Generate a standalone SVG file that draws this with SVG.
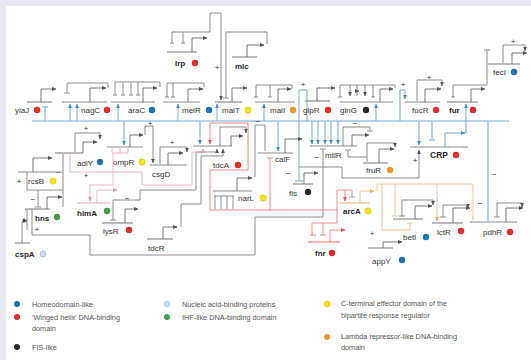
<svg xmlns="http://www.w3.org/2000/svg" width="531" height="360" viewBox="0 0 531 360">
<defs>
<style>
text{font-family:"Liberation Sans",Arial,sans-serif;font-size:8px;fill:#333}
.bd{font-weight:bold;fill:#2a2a2a}
.s{text-anchor:middle}
.lg{font-size:7.3px;fill:#555}
.bl{fill:none;stroke:#8c8c8c;stroke-width:1.2}
.pa{fill:none;stroke:#666;stroke-width:0.9}
.g{fill:none;stroke:#7f7f7f;stroke-width:0.9}
.u{fill:none;stroke:#5c9fd6;stroke-width:0.9}
.p{fill:none;stroke:#f5a9bf;stroke-width:0.9}
.r{fill:none;stroke:#f07d7d;stroke-width:0.9}
.o{fill:none;stroke:#f7be85;stroke-width:0.9}
.dr{fill:#e52a2a}.db{fill:#1d72b8}.dy{fill:#f4e31c;stroke:#c9b800;stroke-width:0.4}.do{fill:#f2962c}.dg{fill:#3c9e4a}.dk{fill:#2a2a2a}.dl{fill:#c8e0f1;stroke:#8cb5d6;stroke-width:0.6}
</style>
<marker id="mg" viewBox="0 0 6 6" refX="5.5" refY="3" markerWidth="4.5" markerHeight="4.5" orient="auto" markerUnits="userSpaceOnUse"><path d="M0,0.4L6,3L0,5.6z" fill="#555"/></marker>
<marker id="mb" viewBox="0 0 6 6" refX="5.5" refY="3" markerWidth="4.5" markerHeight="4.5" orient="auto" markerUnits="userSpaceOnUse"><path d="M0,0.4L6,3L0,5.6z" fill="#3d8bcc"/></marker>
<marker id="mp" viewBox="0 0 6 6" refX="5.5" refY="3" markerWidth="4.5" markerHeight="4.5" orient="auto" markerUnits="userSpaceOnUse"><path d="M0,0.4L6,3L0,5.6z" fill="#f28fae"/></marker>
<marker id="mr" viewBox="0 0 6 6" refX="5.5" refY="3" markerWidth="4.5" markerHeight="4.5" orient="auto" markerUnits="userSpaceOnUse"><path d="M0,0.4L6,3L0,5.6z" fill="#ec4e4e"/></marker>
<marker id="mo" viewBox="0 0 6 6" refX="5.5" refY="3" markerWidth="4.5" markerHeight="4.5" orient="auto" markerUnits="userSpaceOnUse"><path d="M0,0.4L6,3L0,5.6z" fill="#f3a35a"/></marker>
</defs>
<rect width="531" height="360" fill="#e9e9f4"/>
<rect x="6" y="6" width="525" height="354" fill="#fff"/>

<g id="connectors">
<path class="u" d="M32,121H509"/>
<path class="u" d="M45,121V107M42,107H48"/>
<path class="u" d="M70,121V104" marker-end="url(#mb)"/>
<path class="u" d="M77,121V104" marker-end="url(#mb)"/>
<path class="u" d="M118,121V104" marker-end="url(#mb)"/>
<path class="u" d="M178,121V104" marker-end="url(#mb)"/>
<path class="u" d="M217,121V104" marker-end="url(#mb)"/>
<path class="u" d="M264,121V104" marker-end="url(#mb)"/>
<path class="u" d="M376,121V104" marker-end="url(#mb)"/>
<path class="u" d="M466,133V104" marker-end="url(#mb)"/>
<path class="u" d="M299,181V90H307V121M295,181H303"/>
<path class="u" d="M400,121V90H405V99" marker-end="url(#mb)"/>
<path class="u" d="M124,121V145" marker-end="url(#mb)"/>
<path class="u" d="M200,121V144" marker-end="url(#mb)"/>
<path class="u" d="M278,121V151" marker-end="url(#mb)"/>
<path class="u" d="M312,121V144" marker-end="url(#mb)"/>
<path class="u" d="M318,121V144" marker-end="url(#mb)"/>
<path class="u" d="M325,121V144" marker-end="url(#mb)"/>
<path class="u" d="M331,121V144" marker-end="url(#mb)"/>
<path class="u" d="M338,121V144" marker-end="url(#mb)"/>
<path class="u" d="M419,121V145" marker-end="url(#mb)"/>
<path class="u" d="M432,121V140M429,140H435"/>
<path class="u" d="M488,121V221"/>

<path class="g" d="M108,88V83H67V93M64,93H70"/>
<path class="g" d="M160,87V82H115V95M123,82V95M131,82V95M138,82V95M113,95H117M121,95H125M129,95H133M136,95H140"/>
<path class="g" d="M204,87V83H167V97M173,83V97M165,97H169M171,97H175"/>
<path class="g" d="M172,43V32H210V13H221V100" marker-end="url(#mg)"/>
<path class="g" d="M183,32V43M170,43H174M181,43H185"/>
<path class="g" d="M267,44V32H226V98M223,98H229"/>
<path class="g" d="M292,89V85H256V97M270,85V97M254,97H258M268,97H272"/>
<path class="g" d="M395,88V85H340V97M338,97H342M373,85V97M371,97H375"/>
<path class="g" d="M350,85V96" marker-end="url(#mg)"/>
<path class="g" d="M357,85V96M355,91H359" marker-end="url(#mg)"/>
<path class="g" d="M365,85V96" marker-end="url(#mg)"/>
<path class="g" d="M417,101V80H442V86" marker-end="url(#mg)"/>
<path class="g" d="M453,97V85H487V50M451,97H455M484,50H490"/>
<path class="g" d="M503,63V45H525V51" marker-end="url(#mg)"/>
<path class="g" d="M75,152V133H100V139" marker-end="url(#mg)"/>
<path class="g" d="M63,207V154"/>
<path class="g" d="M160,164V147H187V152" marker-end="url(#mg)"/>
<path class="g" d="M145,135V126H153V163" marker-end="url(#mg)"/>
<path class="g" d="M27,172V190H63M38,190V207M35,207H41"/>
<path class="g" d="M27,209V230M32,209V235H90V255H255V217H323V149M320,149H326"/>
<path class="g" d="M22,243V221H27" marker-end="url(#mg)"/>
<path class="g" d="M113,220V200H140V190H196V152H217V149" marker-end="url(#mg)"/>
<path class="g" d="M110,220H116"/>
<path class="g" d="M181,227V204H201V156H223V149" marker-end="url(#mg)"/>
<path class="g" d="M220,146V127H246V133" marker-end="url(#mg)"/>
<path class="g" d="M214,196H234M215,196V209M221,196V209M227,196V209M233,196V209"/>
<path class="g" d="M255,177V125H265V151"/>
<path class="g" d="M343,146V127H370V131M367,131H373"/>
<path class="g" d="M367,162V143H395V147" marker-end="url(#mg)"/>
<path class="g" d="M367,157H348V150M345,150H351"/>
<path class="g" d="M299,167H342V178H419V150" marker-end="url(#mg)"/>
<path class="g" d="M402,216V200H433V205" marker-end="url(#mg)"/>
<path class="g" d="M399,216H405"/>
<path class="g" d="M443,217V205H468V208" marker-end="url(#mg)"/>
<path class="g" d="M440,217H446"/>
<path class="g" d="M497,217V203H522V207" marker-end="url(#mg)"/>
<path class="g" d="M494,217H500"/>

<path class="p" d="M112,148V153H128V148M120,148V153"/>
<path class="p" d="M113,153V185H90V201" marker-end="url(#mp)"/>
<path class="p" d="M70,154V172H142V185H192V152H203V149" marker-end="url(#mp)"/>

<path class="r" d="M337,210H210V170H248V123H210V144" marker-end="url(#mr)"/>
<path class="r" d="M270,210V158M267,158H273"/>
<path class="r" d="M352,197V190H337V223H312V235M323,223V235M310,235H316M320,235H326M349,197H355"/>
<path class="r" d="M345,190V201" marker-end="url(#mr)"/>

<path class="o" d="M377,191V184H473V220"/>
<path class="o" d="M382,184V230H410V223M407,223H413"/>
<path class="o" d="M395,184V216M392,216H398"/>
<path class="o" d="M437,184V221" marker-end="url(#mo)"/>

<g>
<text class="s" x="86" y="131">+</text>
<text class="s" x="217" y="70">+</text>
<text class="s" x="303" y="87">+</text>
<text class="s" x="403" y="87">+</text>
<text class="s" x="429" y="80">+</text>
<text class="s" x="513" y="44">+</text>
<text class="s" x="150" y="126">+</text>
<text class="s" x="172" y="145">+</text>
<text class="s" x="86" y="178">+</text>
<text class="s" x="19" y="184">+</text>
<text class="s" x="24" y="222">+</text>
<text class="s" x="37" y="232">+</text>
<text class="s" x="415" y="163">+</text>
<text class="s" x="372" y="236">+</text>
<text class="s" x="58" y="175">−</text>
<text class="s" x="33" y="202">−</text>
<text class="s" x="258" y="124">−</text>
<text class="s" x="317" y="160">−</text>
<text class="s" x="288" y="176">−</text>
<text class="s" x="355" y="126">−</text>
<text class="s" x="127" y="201">−</text>
<text class="s" x="494" y="177">−</text>
<text class="s" x="480" y="206">−</text>
</g>
</g>

<g id="yiaJ"><path class="bl" d="M27,102H52"/><path class="pa" d="M41,102V89H56" marker-end="url(#mg)"/><text x="15" y="113">yiaJ</text><circle class="dr" cx="37" cy="110" r="3.2"/></g>
<g id="nagC"><path class="bl" d="M62,102H107"/><path class="pa" d="M90,102V88H106" marker-end="url(#mg)"/><text x="81" y="113">nagC</text><circle class="dr" cx="107" cy="110" r="3.2"/></g>
<g id="araC"><path class="bl" d="M111,102H155"/><path class="pa" d="M143,102V88H157" marker-end="url(#mg)"/><text x="128" y="113">araC</text><circle class="db" cx="152" cy="110" r="3.2"/></g>
<g id="melR"><path class="bl" d="M163,102H200"/><path class="pa" d="M188,102V89H203" marker-end="url(#mg)"/><text x="182" y="113">melR</text><circle class="db" cx="209" cy="110" r="3.2"/></g>
<g id="malT"><path class="bl" d="M215,102H242"/><path class="pa" d="M232,102V88H247" marker-end="url(#mg)"/><text x="222" y="113">malT</text><circle class="dy" cx="248" cy="110" r="3.2"/></g>
<g id="lrp"><path class="bl" d="M167,52H197"/><path class="pa" d="M192,52V38H207" marker-end="url(#mg)"/><text class="bd" x="175" y="66">lrp</text><circle class="dr" cx="195" cy="63" r="3.2"/></g>
<g id="mlc"><path class="bl" d="M232,57H257"/><path class="pa" d="M247,57V45H264" marker-end="url(#mg)"/><text class="bd" x="235" y="69">mlc</text></g>
<g id="malI"><path class="bl" d="M255,102H295"/><path class="pa" d="M278,102V89H291" marker-end="url(#mg)"/><text x="270" y="113">malI</text><circle class="do" cx="293" cy="110" r="3.2"/></g>
<g id="glpR"><path class="bl" d="M305,101H330"/><path class="pa" d="M317,101V88H335" marker-end="url(#mg)"/><text x="303" y="113">glpR</text><circle class="dr" cx="328" cy="110" r="3.2"/></g>
<g id="glnG"><path class="bl" d="M340,102H393"/><path class="pa" d="M380,102V89H393" marker-end="url(#mg)"/><text x="340" y="113">glnG</text><circle class="dk" cx="366" cy="110" r="3.2"/></g>
<g id="fucR"><path class="bl" d="M405,102H440"/><path class="pa" d="M425,102V89H441" marker-end="url(#mg)"/><text x="412" y="113">fucR</text><circle class="dr" cx="436" cy="110" r="3.2"/></g>
<g id="fur"><path class="bl" d="M447,102H478"/><path class="pa" d="M471,102V89H485" marker-end="url(#mg)"/><text class="bd" x="449" y="113">fur</text><circle class="dr" cx="473" cy="110" r="3.2"/></g>
<g id="fecI"><path class="bl" d="M488,64H520"/><path class="pa" d="M512,64V53H527" marker-end="url(#mg)"/><text x="493" y="75">fecI</text><circle class="db" cx="514" cy="72" r="3.2"/></g>
<g id="CRP"><path class="bl" d="M410,147H468"/><path class="u" d="M445,147V133H465" marker-end="url(#mb)"/><text class="bd" x="430" y="158" style="font-size:8.5px">CRP</text><circle class="dr" cx="456" cy="155" r="3.2"/></g>
<g id="mtlR"><path class="bl" d="M310,146H357"/><path class="pa" d="M352,146V135H369" marker-end="url(#mg)"/><text x="325" y="158">mtlR</text></g>
<g id="fruR"><path class="bl" d="M363,163H388"/><path class="pa" d="M379,163V149H394" marker-end="url(#mg)"/><text x="366" y="173">fruR</text><circle class="do" cx="390" cy="170" r="3.2"/></g>
<g id="fis"><path class="bl" d="M293,184H313"/><path class="pa" d="M304,184V173H318" marker-end="url(#mg)"/><text x="289" y="196">fis</text><circle class="dk" cx="308" cy="192" r="3.2"/></g>
<g id="calF"><path class="bl" d="M258,153H293"/><path class="pa" d="M285,153V139H302" marker-end="url(#mg)"/><text x="275" y="162">calF</text></g>
<g id="tdcA"><path class="bl" d="M193,146H232"/><path class="pa" d="M231,146V136H243" marker-end="url(#mg)"/><text x="213" y="168">tdcA</text><circle class="dr" cx="238" cy="165" r="3.2"/></g>
<g id="narL"><path class="bl" d="M213,191H252"/><path class="pa" d="M237,191V178H252" marker-end="url(#mg)"/><text x="238" y="201">narL</text><circle class="dy" cx="263" cy="198" r="3.2"/></g>
<g id="csgD"><path class="bl" d="M150,165H187"/><path class="pa" d="M168,165V153H183" marker-end="url(#mg)"/><text x="152" y="177">csgD</text></g>
<g id="ompR"><path class="bl" d="M107,147H143"/><path class="pa" d="M130,147V135H143" marker-end="url(#mg)"/><text x="113" y="165">ompR</text><circle class="dy" cx="142" cy="162" r="3.2"/></g>
<g id="adiY"><path class="bl" d="M55,153H83"/><path class="pa" d="M83,153V142H97" marker-end="url(#mg)"/><text x="77" y="166">adiY</text><circle class="db" cx="100" cy="162" r="3.2"/></g>
<g id="rcsB"><path class="bl" d="M18,172H63"/><path class="pa" d="M33,172V158H52" marker-end="url(#mg)"/><text x="28" y="184">rcsB</text><circle class="dy" cx="53" cy="181" r="3.2"/></g>
<g id="hns"><path class="bl" d="M25,209H50"/><path class="pa" d="M47,209V197H62" marker-end="url(#mg)"/><text class="bd" x="35" y="221">hns</text><circle class="dg" cx="57" cy="217" r="3.2"/></g>
<g id="cspA"><path class="bl" d="M15,243H30"/><text class="bd" x="15" y="257">cspA</text><circle class="dl" cx="43" cy="254" r="3"/></g>
<g id="himA"><path class="p" style="stroke-width:1.2" d="M77,203H110"/><path class="p" d="M97,203V190H117" marker-end="url(#mp)"/><text class="bd" x="77" y="216">himA</text><circle class="dg" cx="107" cy="211" r="3.2"/></g>
<g id="lysR"><path class="bl" d="M102,223H133"/><path class="pa" d="M125,223V209H138" marker-end="url(#mg)"/><text x="103" y="234">lysR</text><circle class="dr" cx="129" cy="230" r="3.2"/></g>
<g id="tdcR"><path class="bl" d="M147,239H173"/><path class="pa" d="M163,239V227H177" marker-end="url(#mg)"/><text x="148" y="251">tdcR</text></g>
<g id="arcA"><path class="o" style="stroke-width:1.2" d="M340,203H370"/><path class="o" d="M360,203V191H374" marker-end="url(#mo)"/><text class="bd" x="343" y="214">arcA</text><circle class="dy" cx="368" cy="211" r="3.2"/></g>
<g id="fnr"><path class="r" style="stroke-width:1.2" d="M308,242H340"/><path class="r" d="M330,242V230H345" marker-end="url(#mr)"/><text class="bd" x="315" y="256">fnr</text><circle class="dr" cx="332" cy="253" r="3.2"/></g>
<g id="betI"><path class="bl" d="M393,219H423"/><path class="pa" d="M415,219V206H432" marker-end="url(#mg)"/><text x="403" y="240">betI</text><circle class="db" cx="426" cy="237" r="3.2"/></g>
<g id="appY"><path class="bl" d="M368,248H393"/><path class="pa" d="M383,248V242H402" marker-end="url(#mg)"/><text x="372" y="264">appY</text><circle class="db" cx="402" cy="260" r="3.2"/></g>
<g id="lctR"><path class="bl" d="M432,223H463"/><path class="pa" d="M453,223V208H470" marker-end="url(#mg)"/><text x="437" y="235">lctR</text><circle class="dr" cx="461" cy="231" r="3.2"/></g>
<g id="pdhR"><path class="bl" d="M470,222H517"/><path class="pa" d="M506,222V208H523" marker-end="url(#mg)"/><text x="483" y="235">pdhR</text><circle class="dr" cx="510" cy="232" r="3.2"/></g>

<g id="legend">
<circle class="db" cx="17" cy="304" r="3"/><text class="lg" x="32" y="306.5">Homeodomain-like</text>
<circle class="dr" cx="17" cy="317" r="3"/><text class="lg" x="32" y="319.5">'Winged helix' DNA-binding</text><text class="lg" x="32" y="330.5">domain</text>
<circle class="dk" cx="17" cy="347" r="3"/><text class="lg" x="32" y="349.5">FIS-like</text>
<circle class="dl" cx="167" cy="304" r="2.8"/><text class="lg" x="182" y="306.5">Nucleic acid-binding proteins</text>
<circle class="dg" cx="167" cy="317" r="3"/><text class="lg" x="182" y="319.5">IHF-like DNA-binding domain</text>
<circle class="dy" cx="327" cy="304" r="3"/><text class="lg" x="341" y="305.5">C-terminal effector domain of the</text><text class="lg" x="341" y="317.5">bipartite response regulator</text>
<circle class="do" cx="327" cy="337" r="3"/><text class="lg" x="341" y="338.5">Lambda repressor-like DNA-binding</text><text class="lg" x="341" y="350">domain</text>
</g>
</svg>
